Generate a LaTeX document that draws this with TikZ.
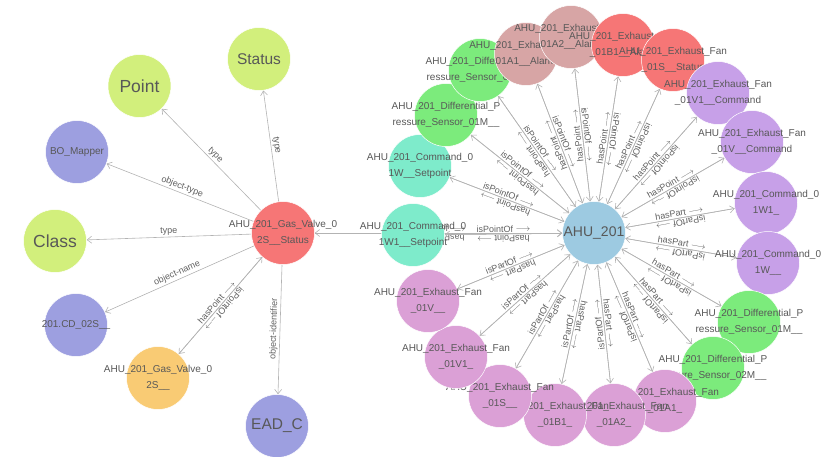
\documentclass[tikz,border=0pt]{standalone}
\usepackage{fontspec}
\setmainfont{Liberation Sans}
\usetikzlibrary{arrows.meta}
\pgfdeclarelayer{bg}
\pgfsetlayers{bg,main}
\definecolor{lime}{HTML}{D2EF7C}
\definecolor{peri}{HTML}{9D9FE0}
\definecolor{redn}{HTML}{F67676}
\definecolor{oran}{HTML}{F9CB74}
\definecolor{mint}{HTML}{7EEBCB}
\definecolor{grn}{HTML}{7CEB7C}
\definecolor{rose}{HTML}{D7A5A5}
\definecolor{orch}{HTML}{DBA0D6}
\definecolor{lav}{HTML}{C7A0E8}
\definecolor{lblue}{HTML}{9DCAE1}
\definecolor{edgec}{HTML}{B3B3B3}
\definecolor{txt}{HTML}{585858}
\definecolor{elabc}{HTML}{606060}
\tikzset{
  circ/.style={circle, minimum size=63pt, inner sep=0pt, draw=white, line width=0.5pt},
  nlab/.style={text=txt, align=center, font=\fontsize{10}{16}\selectfont, inner sep=0pt},
  biglab/.style={text=txt, font=\fontsize{#1}{#1}\selectfont, inner sep=0pt},
  edge/.style={draw=edgec, line width=0.6pt},
  arr/.style={-{Straight Barb[length=4.5pt,width=7pt]}},
  elab/.style={text=elabc, font=\fontsize{9}{10}\selectfont, inner sep=1.5pt, sloped, above},
}
\newcommand\rarr{$\longrightarrow$}
\begin{document}
\begin{tikzpicture}[x=1pt,y=-1pt]
\useasboundingbox (0,0) rectangle (821,456);

% ---------- left cluster ----------
\node[circ, fill=lime] (status) at (259,59) {};
\node[biglab=15.5] (statust) at (status) {Status};
\node[circ, fill=lime] (point) at (139.5,86) {};
\node[biglab=17.5] (pointt) at (point) {Point};
\node[circ, fill=peri] (bo) at (77,152) {};
\node[nlab] (bot) at (bo) {BO\_Mapper};
\node[circ, fill=lime] (class) at (55,241) {};
\node[biglab=17.5] (classt) at (class) {Class};
\node[circ, fill=peri] (cd) at (76,325) {};
\node[nlab] (cdt) at (cd) {201.CD\_02S\_\_};
\node[circ, fill=oran] (gv) at (158,378) {};
\node[nlab] (gvt) at (gv) {AHU\_201\_Gas\_Valve\_0\\2S\_\_};
\node[circ, fill=peri] (ead) at (277,426) {};
\node[biglab=15.5] (eadt) at (ead) {EAD\_C};
\node[circ, fill=redn] (gvs) at (283,233) {};
\node[nlab] (gvst) at (gvs) {AHU\_201\_Gas\_Valve\_0\\2S\_\_Status};

% ---------- centre ----------
\node[circ, fill=lblue] (ahu) at (594,233) {};
\node[biglab=14] (ahut) at (ahu) {AHU\_201};

% ---------- ring ----------
\node[circ, fill=mint] (s1) at (413,235) {};
\node[nlab] (s1t) at (s1) {AHU\_201\_Command\_0\\1W1\_\_Setpoint};
\node[circ, fill=mint] (s2) at (420,166) {};
\node[nlab] (s2t) at (s2) {AHU\_201\_Command\_0\\1W\_\_Setpoint};
\node[circ, fill=grn] (d1) at (446,115) {};
\node[nlab] (d1t) at (d1) {AHU\_201\_Differential\_P\\ressure\_Sensor\_01M\_\_};
\node[circ, fill=grn] (d2) at (480,70) {};
\node[nlab] (d2t) at (d2) {AHU\_201\_Differential\_P\\ressure\_Sensor\_02M\_\_};
\node[circ, fill=rose] (a1) at (526,54) {};
\node[nlab] (a1t) at (a1) {AHU\_201\_Exhaust\_Fan\_\\01A1\_\_Alarm};
\node[circ, fill=rose] (a2) at (571,37) {};
\node[nlab] (a2t) at (a2) {AHU\_201\_Exhaust\_Fan\_\\01A2\_\_Alarm};
\node[circ, fill=redn] (b1) at (623,45) {};
\node[nlab] (b1t) at (b1) {AHU\_201\_Exhaust\_Fan\\\_01B1\_\_Alarm};
\node[circ, fill=redn] (st) at (673,60) {};
\node[nlab] (stt) at (st) {AHU\_201\_Exhaust\_Fan\\\_01S\_\_Status};
\node[circ, fill=lav] (v1c) at (718,93) {};
\node[nlab] (v1ct) at (v1c) {AHU\_201\_Exhaust\_Fan\\\_01V1\_\_Command};
\node[circ, fill=lav] (vc) at (752,142) {};
\node[nlab] (vct) at (vc) {AHU\_201\_Exhaust\_Fan\\\_01V\_\_Command};
\node[circ, fill=lav] (c1) at (766,203) {};
\node[nlab] (c1t) at (c1) {AHU\_201\_Command\_0\\1W1\_};
\node[circ, fill=lav] (c2) at (768,263) {};
\node[nlab] (c2t) at (c2) {AHU\_201\_Command\_0\\1W\_\_};
\node[circ, fill=grn] (p1) at (749,322) {};
\node[nlab] (p1t) at (p1) {AHU\_201\_Differential\_P\\ressure\_Sensor\_01M\_\_};
\node[circ, fill=grn] (p2) at (713,368) {};
\node[nlab] (p2t) at (p2) {AHU\_201\_Differential\_P\\ressure\_Sensor\_02M\_\_};
\node[circ, fill=orch] (e1) at (665,401) {};
\node[nlab] (e1t) at (e1) {AHU\_201\_Exhaust\_Fan\\\_01A1\_};
\node[circ, fill=orch] (e2) at (614,415) {};
\node[nlab] (e2t) at (e2) {AHU\_201\_Exhaust\_Fan\\\_01A2\_};
\node[circ, fill=orch] (e3) at (555,415) {};
\node[nlab] (e3t) at (e3) {AHU\_201\_Exhaust\_Fan\\\_01B1\_};
\node[circ, fill=orch] (e4) at (500,396) {};
\node[nlab] (e4t) at (e4) {AHU\_201\_Exhaust\_Fan\\\_01S\_\_};
\node[circ, fill=orch] (e5) at (456,357) {};
\node[nlab] (e5t) at (e5) {AHU\_201\_Exhaust\_Fan\\\_01V1\_};
\node[circ, fill=orch] (e6) at (428,301) {};
\node[nlab] (e6t) at (e6) {AHU\_201\_Exhaust\_Fan\\\_01V\_\_};

% ---------- edges ----------
\begin{pgfonlayer}{bg}
\draw[edge,arr] (gvs) -- node[elab] {type} (status);
\draw[edge,arr] (gvs) -- node[elab] {type} (point);
\draw[edge,arr] (gvs) -- node[elab] {object-type} (bo);
\draw[edge,arr] (gvs) -- node[elab] {type} (class);
\draw[edge,arr] (gvs) -- node[elab] {object-name} (cd);
\draw[edge,arr] (gvs) -- node[elab] {object-identifier} (ead);
\draw[edge,arr] (gv) -- node[elab, allow upside down] {hasPoint \rarr} (gvs);
\draw[edge,arr] (gvs) -- node[elab, allow upside down] {isPointOf \rarr} (gv);
\draw[edge,arr] (gvs) -- node[elab, allow upside down] {isPointOf \rarr} (ahu);
\draw[edge,arr] (ahu) -- node[elab, allow upside down] {hasPoint \rarr} (gvs);
\foreach \n in {s1,s2,d1,d2,a1,a2,b1,st,v1c,vc} {
  \draw[edge,arr] (\n) -- node[elab, allow upside down] {isPointOf \rarr} (ahu);
  \draw[edge,arr] (ahu) -- node[elab, allow upside down] {hasPoint \rarr} (\n);
}
\foreach \n in {c1,c2,p1,p2,e1,e2,e3,e4,e5,e6} {
  \draw[edge,arr] (\n) -- node[elab, allow upside down] {isPartOf \rarr} (ahu);
  \draw[edge,arr] (ahu) -- node[elab, allow upside down] {hasPart \rarr} (\n);
}
\end{pgfonlayer}
\end{tikzpicture}
\end{document}
